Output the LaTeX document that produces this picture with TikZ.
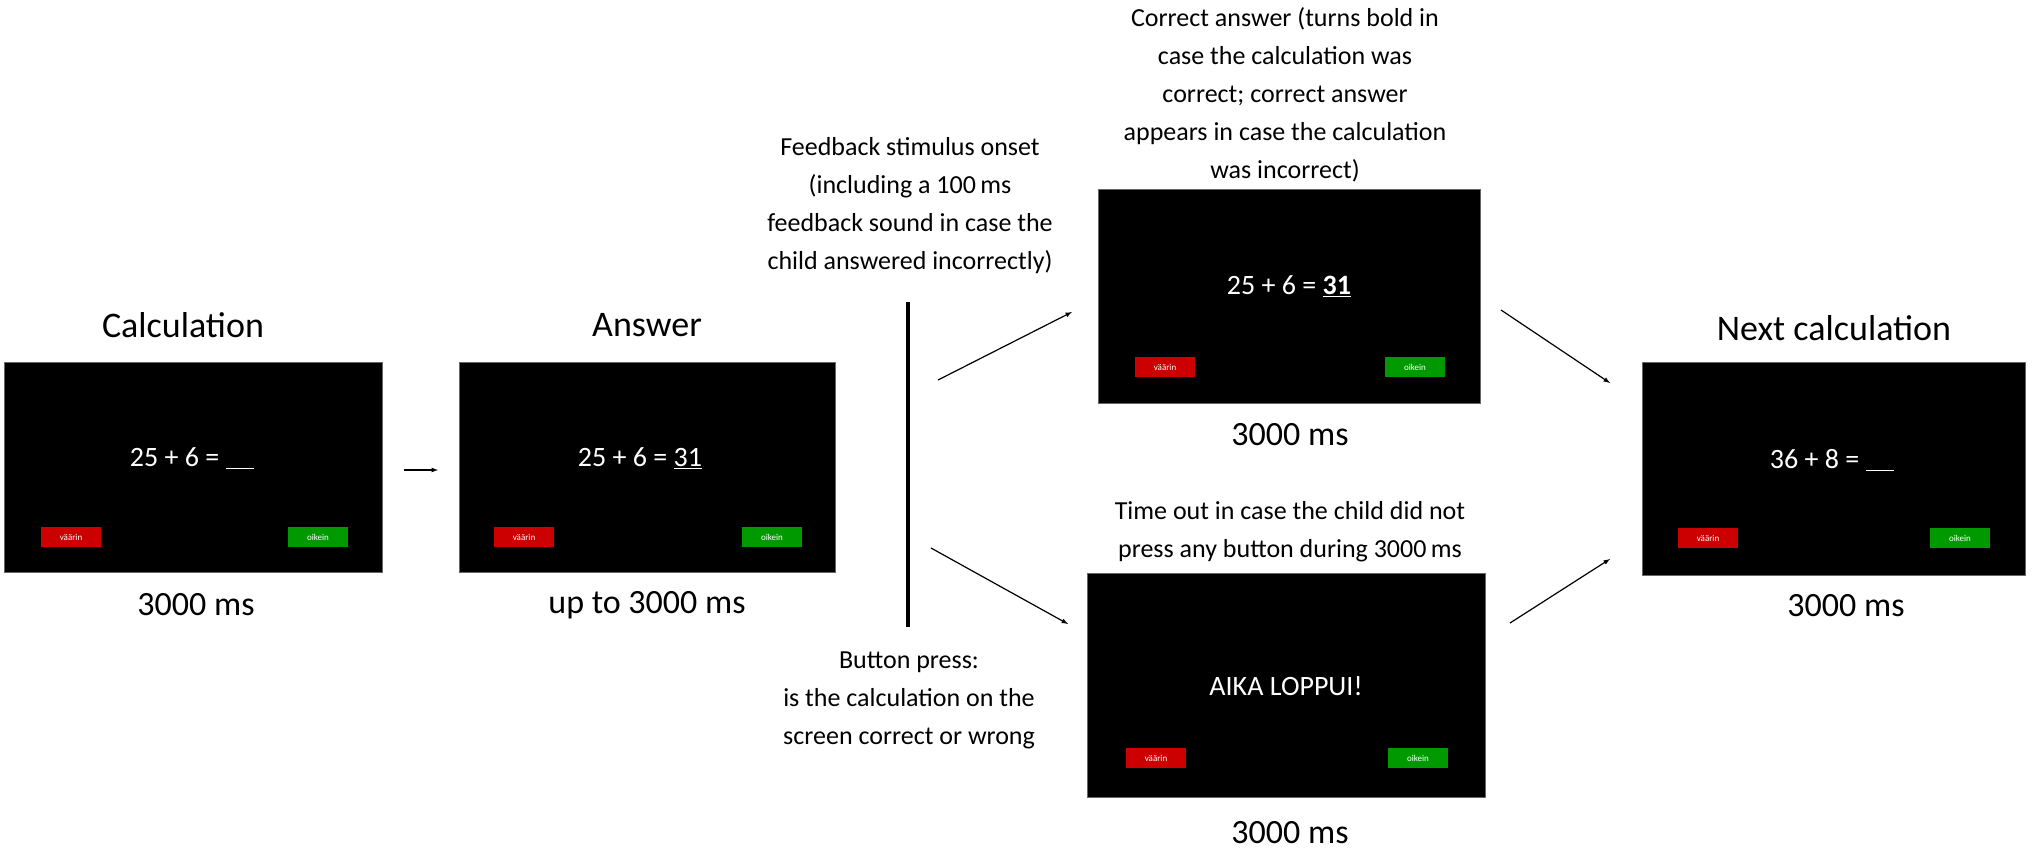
\documentclass[tikz,border=0pt]{standalone}
\usepackage{fontspec}
\setmainfont{Carlito}
\begin{document}
\begin{tikzpicture}[x=1pt,y=-1pt,
 screen/.style={fill=black,draw=black!60,line width=0.6pt,inner sep=0pt},
 red/.style={fill=red!80!black,text=white,font=\fontsize{9}{10}\selectfont,minimum width=60pt,minimum height=20pt,inner sep=0pt},
 grn/.style={fill=green!60!black,text=white,font=\fontsize{9}{10}\selectfont,minimum width=60pt,minimum height=20pt,inner sep=0pt},
 title/.style={font=\fontsize{36}{40}\selectfont},
 ms/.style={font=\fontsize{34}{38}\selectfont},
 lab/.style={font=\fontsize{26}{38}\selectfont,align=center},
 scr/.style={text=white,font=\fontsize{28}{32}\selectfont},
 arr/.style={-latex,line width=1.2pt}]
\useasboundingbox (0,0) rectangle (2032,854);
% screen 1
\path[screen] (4,362) rectangle (382,572);
\node (s1) at (193,467) {};
\node[scr] (t1) at (192,458) {25 + 6 = \underline{\phantom{00}}};
\node[red] (r1) at (71,537) {väärin};
\node[grn] (g1) at (318,537) {oikein};
\node[title] (c1) at (183,325) {Calculation};
\node[ms] (m1) at (196,605) {3000 ms};
% screen 2
\path[screen] (459,362) rectangle (835,572);
\node[scr] (t2) at (640,458) {25 + 6 = \underline{31}};
\node[red] (r2) at (524,537) {väärin};
\node[grn] (g2) at (772,537) {oikein};
\node[title] (c2) at (647,325) {Answer};
\node[ms] (m2) at (647,605) {up to 3000 ms};
% bar
\coordinate (bt) at (908,302);
\coordinate (bb) at (908,627);
\draw[line width=4pt] (bt) -- (bb);
\node[lab] (fb) at (910,206) {Feedback stimulus onset\\(including a 100\,ms\\feedback sound in case the\\child answered incorrectly)};
\node[lab] (bp) at (909,700) {Button press:\\is the calculation on the\\screen correct or wrong};
% screen 3
\path[screen] (1098,189) rectangle (1480,403);
\node[scr] (t3) at (1289,286) {25 + 6 = \textbf{\underline{31}}};
\node[red] (r3) at (1165,367) {väärin};
\node[grn] (g3) at (1415,367) {oikein};
\node[lab] (ca) at (1285,95) {Correct answer (turns bold in\\case the calculation was\\correct; correct answer\\appears in case the calculation\\was incorrect)};
\node[ms] (m3) at (1290,435) {3000 ms};
% screen 4
\path[screen] (1087,573) rectangle (1485,797);
\node[scr] (t4) at (1286,686) {AIKA LOPPUI!};
\node[red] (r4) at (1156,758) {väärin};
\node[grn] (g4) at (1418,758) {oikein};
\node[lab] (to) at (1290,532) {Time out in case the child did not\\press any button during 3000\,ms};
\node[ms] (m4) at (1290,833) {3000 ms};
% screen 5
\path[screen] (1642,362) rectangle (2025,575);
\node[scr] (t5) at (1832,460) {36 + 8 = \underline{\phantom{00}}};
\node[red] (r5) at (1708,538) {väärin};
\node[grn] (g5) at (1960,538) {oikein};
\node[title] (c5) at (1834,328) {Next calculation};
\node[ms] (m5) at (1846,606) {3000 ms};
% arrows
\coordinate (a1s) at (404,470); \coordinate (a1e) at (438,470);
\draw[arr] (a1s) -- (a1e);
\coordinate (a2s) at (938,380); \coordinate (a2e) at (1072,312);
\draw[arr] (a2s) -- (a2e);
\coordinate (a3s) at (931,548); \coordinate (a3e) at (1068,624);
\draw[arr] (a3s) -- (a3e);
\coordinate (a4s) at (1501,310); \coordinate (a4e) at (1610,383);
\draw[arr] (a4s) -- (a4e);
\coordinate (a5s) at (1510,623); \coordinate (a5e) at (1610,559);
\draw[arr] (a5s) -- (a5e);
\end{tikzpicture}
\end{document}
